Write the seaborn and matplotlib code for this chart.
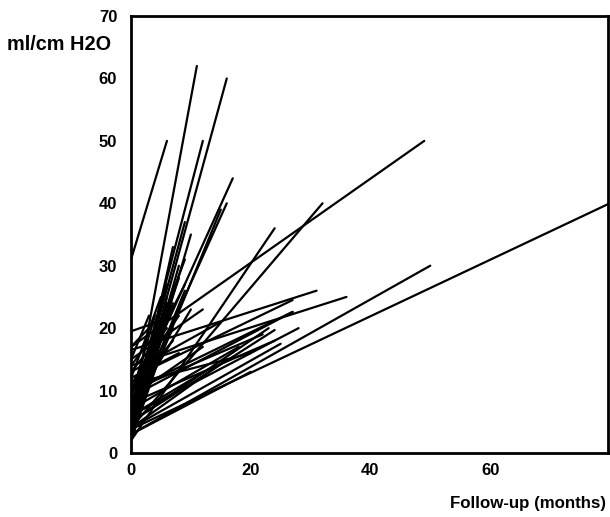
import matplotlib
matplotlib.use("Agg")
import matplotlib.pyplot as plt
import seaborn as sns
import pandas as pd
from matplotlib.ticker import MultipleLocator

# baseline (month 0) and follow-up compliance, one entry per patient
start_val = [31, 5, 4, 6, 8, 6, 4, 5, 8, 10, 3, 7, 12, 9, 15, 19.5, 17, 10, 2, 3,
             2, 4, 6, 8, 13, 11, 3, 5, 7, 12,
             4, 2, 17, 14, 16.5, 12, 9, 6, 8, 5, 10, 7, 4, 6, 9, 11, 3, 3.8, 4, 3,
             13, 15, 10, 5,
             2, 3, 4, 6, 9, 14, 2.5, 5]
end_month = [6, 11, 16, 12, 17, 16, 15, 9, 9, 9, 7, 6, 5, 4, 3, 3, 4, 7, 6, 8,
             10, 5, 3, 2, 6, 8, 4, 7, 10, 8,
             32, 24, 49, 36, 31, 27, 27, 28, 24, 24, 22, 18, 16, 14, 12, 20, 50, 80, 25, 20,
             15, 12, 27, 23,
             5, 6, 7, 8, 6, 4, 3, 9]
end_val = [50, 62, 60, 50, 44, 40, 39, 37, 31, 27, 33, 27, 25, 22, 22, 20.5, 21, 18, 25, 30,
           35, 18, 15, 12, 20, 22, 14, 20, 23, 16,
           40, 36, 50, 25, 26, 24.5, 22.6, 20, 18, 19.7, 19, 17, 15, 14, 17, 16, 30, 40, 17.5, 13,
           21, 23, 22.6, 20,
           16, 21, 24, 28, 24, 19, 12, 26]

rows = []
for i, (y0, x1, y1) in enumerate(zip(start_val, end_month, end_val)):
    rows.append({"patient": i, "month": 0, "value": y0})
    rows.append({"patient": i, "month": x1, "value": y1})
df = pd.DataFrame(rows)

sns.set_style("white")
plt.rcParams['font.family'] = ['Liberation Sans', 'DejaVu Sans']
plt.rcParams['text.color'] = 'black'
plt.rcParams['xtick.color'] = 'black'
plt.rcParams['ytick.color'] = 'black'

fig = plt.figure(figsize=(6.10, 5.17), dpi=100)
ax = fig.add_axes([0.2148, 0.1238, 0.7819, 0.8452])

sns.lineplot(data=df, x="month", y="value", units="patient", estimator=None,
             color="black", linewidth=1.6, ax=ax, legend=False)

ax.set_xlim(0, 79.7)
ax.set_ylim(0, 70)
ax.xaxis.set_major_locator(MultipleLocator(20))
ax.xaxis.set_minor_locator(MultipleLocator(10))
ax.yaxis.set_major_locator(MultipleLocator(10))
ax.tick_params(axis="both", which="both", direction="in", length=4, width=1.6,
               color="black", labelcolor="black")
ax.tick_params(axis="x", which="major", pad=7)
ax.tick_params(axis="y", which="major", pad=10)
for lab in ax.get_xticklabels() + ax.get_yticklabels():
    lab.set_fontweight("bold")
    lab.set_fontsize(12)
for s in ax.spines.values():
    s.set_color("black")
    s.set_linewidth(2)
ax.set_xlabel("")
ax.set_ylabel("")

fig.text(0.012, 0.913, "ml/cm H2O", fontsize=14.3, fontweight="bold", va="center", ha="left")
fig.text(0.993, 0.027, "Follow-up (months)", fontsize=12.2, fontweight="bold", va="center", ha="right")

fig.savefig("out.png", dpi=100)
